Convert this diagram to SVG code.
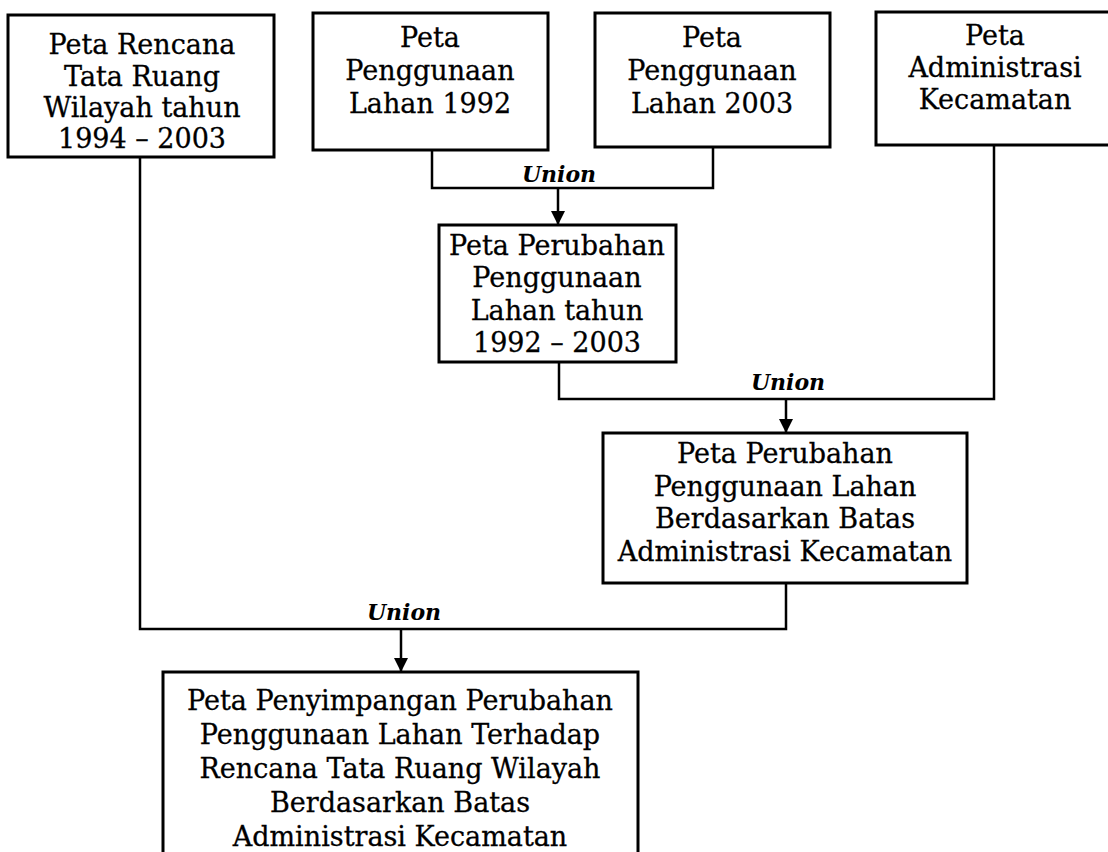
<svg xmlns="http://www.w3.org/2000/svg" width="1108" height="852" viewBox="0 0 1108 852">
<defs>
<marker id="arr" markerUnits="userSpaceOnUse" markerWidth="14" markerHeight="14" refX="14" refY="7" orient="auto">
<path d="M0,0 L14,7 L0,14 z" fill="#000"/>
</marker>
<style>
.box{fill:#fff;stroke:#000;stroke-width:3}
.t{font-family:"DejaVu Serif","Liberation Serif",serif;font-size:27px;fill:#000;text-anchor:middle;stroke:#000;stroke-width:0.3}
.u{font-family:"DejaVu Serif","Liberation Serif",serif;font-size:22px;font-weight:bold;font-style:italic;fill:#000;text-anchor:middle}
.c{fill:none;stroke:#000;stroke-width:2.5}
</style>
</defs>
<rect width="1108" height="852" fill="#fff"/>
<g id="connectors">
<path class="c" d="M432,150 V188 H713 V147"/>
<line class="c" x1="558" y1="188" x2="558" y2="225" marker-end="url(#arr)"/>
<path class="c" d="M559,362 V399 H994 V145"/>
<line class="c" x1="786" y1="399" x2="786" y2="433" marker-end="url(#arr)"/>
<path class="c" d="M140,157 V629 H786 V583"/>
<line class="c" x1="401" y1="629" x2="401" y2="672" marker-end="url(#arr)"/>
<text class="u" x="559" y="182">Union</text>
<text class="u" x="788" y="390">Union</text>
<text class="u" x="404" y="620">Union</text>
</g>
<g id="n1">
<rect class="box" x="8" y="15" width="266" height="142"/>
<text class="t" x="142" y="54">Peta Rencana</text>
<text class="t" x="142" y="86">Tata Ruang</text>
<text class="t" x="142" y="117">Wilayah tahun</text>
<text class="t" x="142" y="148">1994 – 2003</text>
</g>
<g id="n2">
<rect class="box" x="313" y="13" width="235" height="137"/>
<text class="t" x="430" y="47">Peta</text>
<text class="t" x="430" y="80">Penggunaan</text>
<text class="t" x="430" y="113">Lahan 1992</text>
</g>
<g id="n3">
<rect class="box" x="595" y="13" width="235" height="134"/>
<text class="t" x="712" y="47">Peta</text>
<text class="t" x="712" y="80">Penggunaan</text>
<text class="t" x="712" y="113">Lahan 2003</text>
</g>
<g id="n4">
<rect class="box" x="876" y="12" width="240" height="133"/>
<text class="t" x="995" y="45">Peta</text>
<text class="t" x="995" y="77">Administrasi</text>
<text class="t" x="995" y="109">Kecamatan</text>
</g>
<g id="n5">
<rect class="box" x="439" y="225" width="237" height="137"/>
<text class="t" x="557" y="255">Peta Perubahan</text>
<text class="t" x="557" y="287">Penggunaan</text>
<text class="t" x="557" y="320">Lahan tahun</text>
<text class="t" x="557" y="352">1992 – 2003</text>
</g>
<g id="n6">
<rect class="box" x="603" y="433" width="364" height="150"/>
<text class="t" x="785" y="463">Peta Perubahan</text>
<text class="t" x="785" y="496">Penggunaan Lahan</text>
<text class="t" x="785" y="528">Berdasarkan Batas</text>
<text class="t" x="785" y="561">Administrasi Kecamatan</text>
</g>
<g id="n7">
<rect class="box" x="163" y="672" width="475" height="200"/>
<text class="t" x="400" y="710">Peta Penyimpangan Perubahan</text>
<text class="t" x="400" y="744">Penggunaan Lahan Terhadap</text>
<text class="t" x="400" y="778">Rencana Tata Ruang Wilayah</text>
<text class="t" x="400" y="812">Berdasarkan Batas</text>
<text class="t" x="400" y="846">Administrasi Kecamatan</text>
</g>
</svg>
